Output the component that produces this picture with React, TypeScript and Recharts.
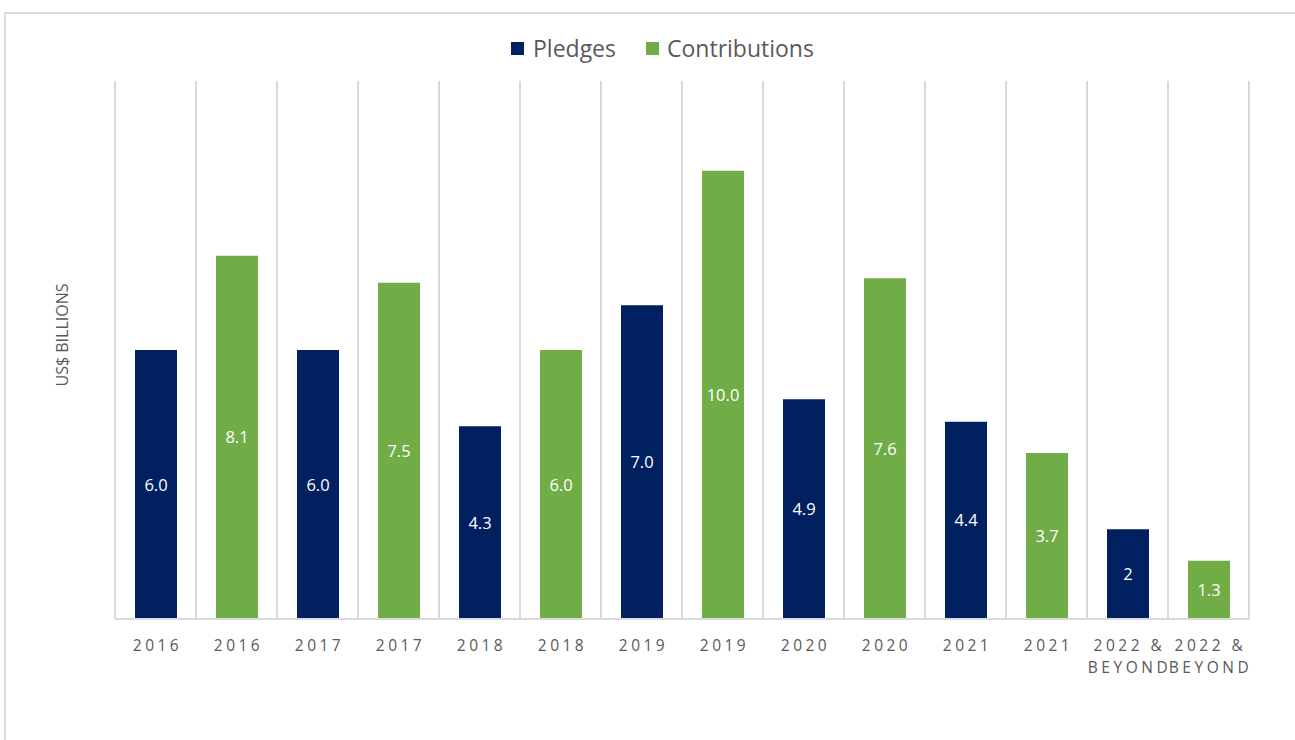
import React from 'react';
import { BarChart, Bar, XAxis, YAxis, CartesianGrid, LabelList } from 'recharts';

// one bar per slot: pledges and contributions alternate
const categories = [
  '2016', '2016', '2017', '2017', '2018', '2018', '2019', '2019',
  '2020', '2020', '2021', '2021', '2022 & BEYOND', '2022 & BEYOND',
];
const pledges = [6.0, null, 6.0, null, 4.3, null, 7.0, null, 4.9, null, 4.4, null, 2, null];
const contributions = [null, 8.1, null, 7.5, null, 6.0, null, 10.0, null, 7.6, null, 3.7, null, 1.3];
const pledgeLabels = ['6.0', '', '6.0', '', '4.3', '', '7.0', '', '4.9', '', '4.4', '', '2', ''];
const contributionLabels = ['', '8.1', '', '7.5', '', '6.0', '', '10.0', '', '7.6', '', '3.7', '', '1.3'];

const NAVY = '#002060';
const GREEN = '#70AD47';
const GRID = '#d9d9d9';
const TEXT = '#595959';
const FONT = '"Open Sans", "Liberation Sans", sans-serif';

const data = categories.map((c, i) => ({
  name: c,
  pledges: pledges[i],
  contributions: contributions[i],
  pLabel: pledgeLabels[i],
  cLabel: contributionLabels[i],
}));

const YearTick = (props: any) => {
  const { x, y, payload } = props;
  const text: string = payload.value;
  const lines = text.includes('&') ? [text.slice(0, text.indexOf('&') + 1), text.slice(text.indexOf('&') + 2)] : [text];
  return (
    <text x={x + 2} y={y + 24} textAnchor="middle" fill={TEXT} fontSize={15.5} fontFamily={FONT} letterSpacing={3.5}>
      {lines.map((l, i) => (
        <tspan key={i} x={x + 2} dy={i === 0 ? 0 : 22}>{l}</tspan>
      ))}
    </text>
  );
};

const BarLabel = (props: any) => {
  const { x, y, width, height, value } = props;
  if (!value) return null;
  return (
    <text x={x + width / 2} y={y + height / 2} dy={6} textAnchor="middle" fill="#ffffff" fontSize={16.5} fontFamily={FONT}>
      {value}
    </text>
  );
};

const App = () => {
  return (
    <div style={{ position: 'relative', width: 1295, height: 740, overflow: 'hidden', background: '#fff', fontFamily: FONT }}>
      <style>{'body { margin: 0; }'}</style>
      <div style={{ position: 'absolute', left: 4, top: 12, width: 1400, height: 800, border: `2px solid ${GRID}` }} />

      {/* legend */}
      <div style={{ position: 'absolute', left: 511, top: 32, display: 'flex', alignItems: 'center', fontSize: 23, color: TEXT }}>
        <span style={{ width: 13, height: 13, background: NAVY, display: 'inline-block', marginRight: 9 }} />
        <span style={{ marginRight: 30 }}>Pledges</span>
        <span style={{ width: 13, height: 13, background: GREEN, display: 'inline-block', marginRight: 8 }} />
        <span>Contributions</span>
      </div>

      {/* y axis title */}
      <div style={{ position: 'absolute', left: 62, top: 335, transform: 'translate(-50%, -50%) rotate(-90deg)', fontSize: 16, color: TEXT, whiteSpace: 'nowrap' }}>
        US$ BILLIONS
      </div>

      <div style={{ position: 'absolute', left: 0, top: 0 }}>
        <BarChart width={1295} height={740} data={data} margin={{ top: 81, right: 46, bottom: 91, left: 115 }}>
          <CartesianGrid
            horizontal={false}
            stroke={GRID}
            strokeWidth={2}
            verticalCoordinatesGenerator={({ offset }: any) =>
              categories.map((_, i) => offset.left + (i * offset.width) / categories.length).concat(offset.left + offset.width)
            }
          />
          <XAxis
            dataKey="name"
            interval={0}
            tickLine={false}
            axisLine={{ stroke: GRID, strokeWidth: 2 }}
            tick={<YearTick />}
            height={30}
          />
          <YAxis hide domain={[0, 12]} />
          <Bar dataKey="pledges" stackId="a" fill={NAVY} barSize={42} isAnimationActive={false}>
            <LabelList dataKey="pLabel" content={<BarLabel />} />
          </Bar>
          <Bar dataKey="contributions" stackId="a" fill={GREEN} barSize={42} isAnimationActive={false}>
            <LabelList dataKey="cLabel" content={<BarLabel />} />
          </Bar>
        </BarChart>
      </div>
    </div>
  );
};

export default App;
